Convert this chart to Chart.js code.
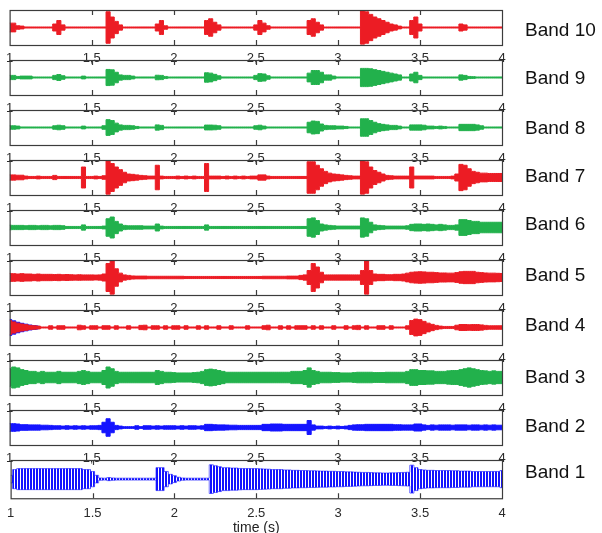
<!DOCTYPE html>
<html>
<head>
<meta charset="utf-8">
<script src="https://cdn.jsdelivr.net/npm/chart.js@4.4.1/dist/chart.umd.min.js"></script>
<style>
  body { margin: 0; background: #fff; width: 602px; height: 533px; position: relative; overflow: hidden;
         font-family: "Liberation Sans", Arial, sans-serif; }
  canvas { position: absolute; left: 0; }
  .band { position: absolute; left: 525px; font-size: 19px; line-height: 20px; color: #111; white-space: nowrap; }
</style>
</head>
<body>
<script>
// sampling grid of the envelopes (seconds)
const tStart = 1, tStep = 0.025, nSamples = 121;
const times = Array.from({ length: nSamples }, (_, i) => +(tStart + i * tStep).toFixed(3));

const tickValues = [1, 1.5, 2, 2.5, 3, 3.5, 4];
const tickLabelsTop = ['1', '1,5', '2', '2,5', '3', '3,5', '4'];
const tickLabelsBottom = ['1', '1.5', '2', '2.5', '3', '3.5', '4'];

const bandNames = ['Band 10', 'Band 9', 'Band 8', 'Band 7', 'Band 6', 'Band 5', 'Band 4', 'Band 3', 'Band 2', 'Band 1'];

// envelope amplitude (0..10 = half panel height), one value every 25 ms from 1 s to 4 s
const band10 = [
  2.5,2.5,1,.8,.3,.3,.3,.3,.3,.3,
  .3,2,4,1.5,.3,.3,.3,.3,.3,.3,
  .3,.3,.3,.3,9,6,3.5,1.5,.3,.3,
  .3,.3,.3,.3,.3,.3,2,4,1,.3,
  .3,.3,.3,.3,.3,.3,.3,.3,4,5,
  3,1.5,.3,.3,.3,.3,.3,.3,.3,.3,
  1.5,4,2.5,1,.3,.3,.3,.3,.3,.3,
  .3,.3,.3,4,5,3,1.5,.3,.3,.3,
  .3,.3,.3,.3,.3,.3,9.5,9,7.5,6,
  5,4,3,2,1.5,.8,.3,.3,4,6,
  2,.3,.3,.3,.3,.3,.3,.3,.3,.3,
  2,1.5,.3,.3,.3,.3,.3,.3,.3,.3,
  .3];
const band9 = [
  1.2,1.2,.6,.8,.8,.8,.3,.3,.3,.3,
  .3,1.2,1.7,1,.3,.3,.3,.3,.8,.3,
  .3,.3,.3,.3,4.6,4.4,3,1.5,1.2,1.2,
  .8,.3,.3,.3,.3,.3,1.3,1.2,.6,.3,
  .3,.3,.3,.3,.3,.3,.3,.3,2.7,2.5,
  1.8,1,.3,.3,.3,.3,.3,.3,.3,.3,
  1.2,2.2,2,1,.3,.3,.3,.3,.3,.3,
  .3,.3,.3,2.5,4,4,3,1.5,1.5,.8,
  .3,.3,.3,.3,.3,.3,5.2,5.2,5,4.5,
  4,3.5,3,2.5,2,1.5,.3,.3,2,3,
  1.2,.3,.3,.3,.3,.3,.3,.3,.3,.3,
  1.5,1.2,.6,.5,.3,.3,.3,.3,.3,.3,
  .3];
const band8 = [
  1,1,.8,.3,.3,.3,.3,.3,.3,.3,
  .3,1,1.3,1,.3,.3,.3,.3,.8,.3,
  .3,.3,.3,1,4.5,4,2.5,1.5,1.2,1.2,
  1,.6,.3,.3,.3,.3,1.5,1.2,.3,.3,
  .3,.3,.3,.3,.3,.3,.3,.3,1.4,1.4,
  1.3,1,.3,.3,.3,.3,.3,.3,.3,.3,
  1,1.3,.8,.3,.3,.3,.3,.3,.3,.3,
  .3,.3,.3,3,3.7,3.5,2,1.2,1,1,
  .8,.8,.6,.3,.3,.3,5,5,4,3,
  2.2,1.8,1.5,1.2,1.2,.8,.3,.3,1.5,1.5,
  1.5,1.3,.8,.8,.6,.8,.6,.3,.3,.3,
  1.8,1.8,1.8,1.8,1.5,1,.3,.3,.3,.3,
  .3];
const band7 = [
  1.5,1.5,1.3,1.3,.8,.6,.6,.8,.6,.6,
  .6,1.2,.6,.6,.6,.6,.6,.6,6,.6,
  .6,.8,.6,1,9.5,8,6,4.5,3,2,
  1.8,1.5,1.2,1,.8,.8,7,.8,.6,.6,
  .6,.8,.6,.8,.6,.8,.6,.6,8,.8,
  .8,.8,.6,.8,.6,.8,.6,.8,.6,.8,
  .8,1.5,1.5,.8,.6,.6,.6,.6,.6,.6,
  .6,.6,.6,9,9,7,5,3.5,2.5,2,
  1.8,1.5,1.2,1,.8,.8,9.5,9,6,4,
  3,2,1.2,1,.8,.8,.8,.8,6,.8,
  .8,.8,.8,.8,.6,.6,.6,.6,.8,2,
  7.5,7,5,3.5,3,2.5,2.5,2.3,2.3,2.3,
  2.3];
const band6 = [
  1.3,1.2,1.2,1.2,1,1.2,1.2,1,1.2,1.2,
  1,1.2,1.2,1,.6,.6,.6,.6,1.5,.6,
  .6,.6,.6,.8,5,6,3.5,2,1.2,1,
  1,1,1,.8,.8,.8,2,.8,.6,.6,
  .6,.6,.6,.6,.6,.6,.6,.6,1.5,.6,
  .6,.6,.6,.6,.6,.6,.6,.6,.6,.6,
  .6,.6,.6,.6,.6,.6,.6,.6,.6,.6,
  .6,.6,.6,5,5.5,4,2,1.5,1.2,1,
  .8,.8,.8,.8,.8,.8,5.5,5,3,1.5,
  1.2,1,.8,.8,.8,.8,.8,1,1.8,2,
  2,1.8,2,1.8,1.5,1.8,1.5,1.2,1.2,1.5,
  4.5,4.5,4,3.5,3.5,3,3,3,3,3,
  3];
const band5 = [
  2.3,2.2,2,2.2,2,2,1.8,2,1.8,1.8,
  1.8,1.7,1.8,1.6,1.7,1.6,1.5,1.6,1.5,1.5,
  1.5,1.4,1.5,2,8,9.5,5,2.5,1.5,1.2,
  .9,.8,.8,.8,.7,.7,.7,.7,.7,.7,
  .7,.7,.7,.6,.6,.6,.6,.6,.6,.6,
  .6,.6,.6,.6,.6,.6,.6,.6,.6,.6,
  .6,.6,.7,.7,.7,.7,.7,.7,.8,.8,
  .8,1.2,1.5,4,8,6,3,1.5,1.5,1.5,
  1.5,1.5,1.5,1.5,1.5,1.5,4,9.5,4,2,
  1.8,1.8,1.6,1.6,1.8,1.8,2,2.5,3,3.2,
  3.3,3.2,3,3,2.8,2.6,2.6,2.5,2.5,2.8,
  3.3,3.5,3.5,3.5,3,2.8,2.6,2.5,2.5,2.4,
  2.3];
const band4 = [
  4,3.2,2.5,2,1.6,1.2,1,.8,.3,.3,
  1,.3,1,1,.3,.3,.3,1.3,1,.3,
  1,1,.3,1,1,.3,1,.3,.3,1,
  .3,.3,1.2,1.3,.3,1,1,.3,1,.3,
  1,1,.3,1,.3,.3,1,.3,1,.3,
  .3,1,.3,.3,1,.3,.3,.3,1,.3,
  .3,.3,1,1.3,.3,.3,1,.3,1,.3,
  1,1,1,.3,1,.3,1,.3,.3,1,
  .3,.3,1,.3,1,1.2,.3,1,.3,.3,
  1,1,.3,1,.3,.3,.3,1,4,4.8,
  4.5,3.5,2.5,1.8,1.2,.8,.6,.6,.6,1.3,
  1.7,1.7,1.6,1.7,1.7,1.5,1.2,1,1,1,
  1];
// blue component visible under band 4 at the very start
const band4Blue = [
  4.6,3.8,3,2.4,1.9,1.4,1.1,.9,null,null,
  null,null,null,null,null,null,null,null,null,null,
  null,null,null,null,null,null,null,null,null,null,
  null,null,null,null,null,null,null,null,null,null,
  null,null,null,null,null,null,null,null,null,null,
  null,null,null,null,null,null,null,null,null,null,
  null,null,null,null,null,null,null,null,null,null,
  null,null,null,null,null,null,null,null,null,null,
  null,null,null,null,null,null,null,null,null,null,
  null,null,null,null,null,null,null,null,null,null,
  null,null,null,null,null,null,null,null,null,null,
  null,null,null,null,null,null,null,null,null,null,
  null];
const band3 = [
  5,6,5.5,4.5,4,3.5,3.5,3,3.5,3,
  3,3,3.5,3,3,3,3,3.5,4,3.5,
  3,3,3,4,6,5,3.5,3,3,3,
  3,3,3,3,3,3,4,3.5,3,3,
  2.8,2.6,2.6,2.6,2.6,2.8,3,3.5,4.5,4.8,
  4.5,4,3.5,3,3,3,3,3,3,3,
  3,3,3,3,3,3,3,3,3,3.5,
  3.5,3.5,4,5.5,4,3.5,3,3,3,2.8,
  2.8,2.6,2.6,2.6,2.8,3,3,3,3,2.8,
  2.8,2.8,3,3,3,3,3,3.5,4.5,4.5,
  4,4,3.8,3.8,3.5,3.5,3.5,3.8,4,4,
  4.5,5,5.5,5,4.5,4,3.8,3.5,3.8,3.5,
  3.5];
const band2 = [
  2.2,2.2,2,1.6,1.6,1.5,1.5,1.5,1.3,1.3,
  1.2,1,1,.8,1,.8,1,.8,1,.8,
  1,1,1.2,3,5,3,1.2,.8,.5,.5,
  .5,1,.5,1,1,.8,1,.8,1,1,
  1,.8,1,.8,1,1,.8,1,1.8,1.8,
  1.6,1.5,1.5,1.4,1.3,1.3,1.2,1.2,1.2,1.2,
  1.2,1.2,1.8,1.8,2,2,2,1.8,1.8,1.8,
  1.8,1.8,1.8,4,1.5,.8,.8,.6,.8,.6,
  .8,.6,.8,1.2,1.5,1.6,1.6,1.8,1.8,1.8,
  1.8,1.8,1.8,1.8,1.6,1.6,1.5,1.5,1.5,2,
  2,1.5,1.2,1.5,1.3,1.5,1.5,1.5,1.3,1.5,
  1.5,1.5,1.3,1.5,1.5,1.3,1.5,1.3,1.5,1.3,
  1.3];
const band1 = [
  2,5,5.5,5.5,5.5,5.5,5.5,5.5,5.5,5.5,
  5.5,5.5,5.5,5.5,5.5,5.5,5.5,5.5,5,5,
  4,2,.6,.5,.8,.6,.5,.5,.5,.5,
  .5,.5,.5,.5,.5,.5,6,6,4,2.5,
  1.8,1,.6,.5,.5,.5,.5,.5,.5,7.5,
  7,6.5,6,6,5.8,5.8,5.6,5.5,5.5,5.5,
  5.5,5.4,5.3,5.2,5,5,5,4.8,4.8,4.6,
  4.6,4.5,4.5,4.4,4.4,4.3,4.2,4.2,4.1,4.1,
  4,4,3.8,3.8,3.7,3.6,3.5,3.5,3.4,3.3,
  3.3,3.2,3.2,3.3,3.3,3.4,3.5,3.6,7.3,6,
  5,4.8,4.6,4.6,4.5,4.5,4.5,4.5,4.4,4.4,
  4.2,4.2,4.2,4,4,4,4,4,4,4,
  4.5];

const RED = '#ec1c24', GREEN = '#22b14c', BLUE = '#1414ff';

const bands = [
  { amps: band10, color: RED },
  { amps: band9, color: GREEN },
  { amps: band8, color: GREEN },
  { amps: band7, color: RED },
  { amps: band6, color: GREEN },
  { amps: band5, color: RED },
  { amps: band4, color: RED, under: { amps: band4Blue, color: BLUE } },
  { amps: band3, color: GREEN },
  { amps: band2, color: BLUE },
  { amps: band1, color: BLUE, striped: true }
];

// layout
const plotLeft = 9, plotRight = 502, plotH = 35, padTop = 4;
const panelTops = [10, 60, 110, 160, 210, 260, 310, 360, 410, 460];
const labelCenters = [30, 78, 128, 176, 224, 275, 325, 377, 426, 472];
const FONT = '"Liberation Sans", Arial, sans-serif';

// vertical stripes to suggest the oscillation of band 1
function stripes(color) {
  const c = document.createElement('canvas');
  c.width = 3; c.height = 4;
  const g = c.getContext('2d');
  g.fillStyle = color;
  g.fillRect(0, 0, 2, 4);
  return g.createPattern(c, 'repeat');
}

const framePlugin = {
  id: 'frame',
  afterDatasetsDraw(chart) {
    const { ctx, chartArea: a, scales: { x } } = chart;
    ctx.save();
    ctx.strokeStyle = '#3c3c3c';
    ctx.lineWidth = 1.2;
    ctx.strokeRect(a.left + .5, a.top + .5, a.right - a.left, a.bottom - a.top);
    tickValues.slice(1, -1).forEach(v => {
      const px = Math.round(x.getPixelForValue(v)) + .5;
      ctx.beginPath();
      ctx.moveTo(px, a.top); ctx.lineTo(px, a.top + 5);
      ctx.moveTo(px, a.bottom); ctx.lineTo(px, a.bottom - 5);
      ctx.stroke();
    });
    ctx.restore();
  }
};

function envelope(amps, color, fillColor, bw) {
  const common = { borderColor: color, backgroundColor: fillColor, borderWidth: bw, pointRadius: 0, stepped: 'middle' };
  return [
    { ...common, data: times.map((t, i) => ({ x: t, y: amps[i] })), fill: '+1' },
    { ...common, data: times.map((t, i) => ({ x: t, y: amps[i] == null ? null : -amps[i] })), fill: false }
  ];
}

bands.forEach((band, idx) => {
  const isBottom = idx === bands.length - 1;
  const canvas = document.createElement('canvas');
  const top = panelTops[idx] - padTop;
  canvas.width = 602;
  canvas.height = isBottom ? 100 : 61;
  canvas.style.top = top + 'px';
  document.body.appendChild(canvas);

  const datasets = envelope(band.amps, band.color,
    band.striped ? stripes(band.color) : band.color, band.striped ? 0.6 : 1);
  if (band.under) datasets.push(...envelope(band.under.amps, band.under.color, band.under.color, 1));

  const labels = isBottom ? tickLabelsBottom : tickLabelsTop;
  const chart = new Chart(canvas, {
    type: 'line',
    data: { datasets },
    options: {
      responsive: false,
      animation: false,
      events: [],
      layout: { padding: { left: plotLeft, right: 602 - plotRight, top: padTop, bottom: 0 } },
      elements: { line: { tension: 0 } },
      plugins: { legend: { display: false }, tooltip: { enabled: false } },
      scales: {
        x: {
          type: 'linear', min: 1, max: 4,
          afterBuildTicks: s => { s.ticks = tickValues.map(v => ({ value: v })); },
          grid: { display: false, drawTicks: false },
          border: { display: false },
          ticks: {
            autoSkip: false, maxRotation: 0, padding: isBottom ? 7 : 6,
            color: '#2a2a2a', font: { family: FONT, size: 13 },
            callback: (v, i) => labels[i]
          },
          title: isBottom
            ? { display: true, text: 'time (s)', color: '#222', font: { family: FONT, size: 14 }, padding: { top: 2, bottom: 0 } }
            : { display: false }
        },
        y: { display: false, min: -10, max: 10 }
      }
    },
    plugins: [framePlugin]
  });

  // pin the plot box to the reference frame
  for (let k = 0; k < 2; k++) {
    const a = chart.chartArea, p = chart.options.layout.padding;
    p.left += plotLeft - a.left;
    p.right += a.right - plotRight;
    p.bottom += a.bottom - (padTop + plotH);
    chart.update('none');
  }

  const lab = document.createElement('div');
  lab.className = 'band';
  lab.textContent = bandNames[idx];
  lab.style.top = (labelCenters[idx] - 10) + 'px';
  document.body.appendChild(lab);
});
</script>
</body>
</html>
